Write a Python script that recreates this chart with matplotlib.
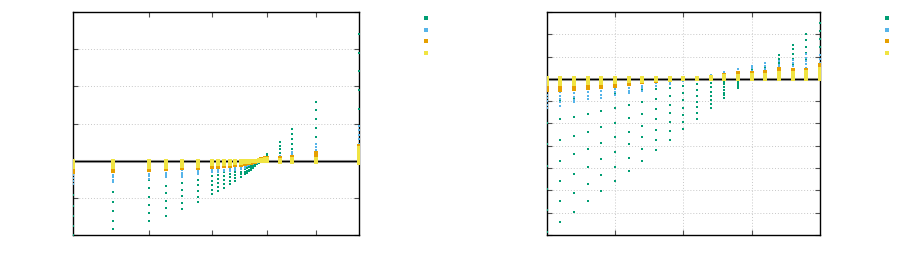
import matplotlib
matplotlib.use('Agg')
import matplotlib.pyplot as plt
from matplotlib.lines import Line2D

# colours (gnuplot default set)
c_green = '#009e73'
c_blue = '#56b4e9'
c_orange = '#e69f00'
c_yellow = '#f0e442'

# ---------------- left panel data ----------------
left_x = [0, 14.0, 26.6, 32.5, 38.1, 43.7, 48.6, 50.7, 52.8, 54.9, 56.6, 58.7,
          60.1, 60.8, 61.5, 62.2, 62.9, 63.6, 64.3, 65.0, 65.7, 66.4, 67.1, 67.8,
          72.4, 76.6, 85.0, 100]
left_green = [
    [-0.92, -1.21, -1.49, -1.76, -2.0],
    [-0.58, -0.85, -1.10, -1.36, -1.61, -1.85],
    [-0.51, -0.73, -0.97, -1.18, -1.41, -1.62],
    [-0.45, -0.67, -0.88, -1.08, -1.28, -1.48],
    [-0.40, -0.59, -0.78, -0.96, -1.13, -1.31],
    [-0.36, -0.51, -0.66, -0.81, -0.97, -1.12],
    [-0.29, -0.41, -0.54, -0.65, -0.78, -0.91],
    [-0.38, -0.48, -0.60, -0.71, -0.81],
    [-0.31, -0.42, -0.53, -0.63, -0.73],
    [-0.27, -0.36, -0.45, -0.55, -0.64],
    [-0.22, -0.31, -0.38, -0.46, -0.54],
    [-0.13, -0.22, -0.30, -0.37, -0.44],
    [-0.08, -0.16, -0.23, -0.30, -0.36],
    [-0.07, -0.14, -0.20, -0.27, -0.33],
    [-0.06, -0.12, -0.18, -0.24, -0.29],
    [-0.05, -0.10, -0.15, -0.20, -0.25],
    [-0.04, -0.08, -0.12, -0.16, -0.20],
    [-0.03, -0.06, -0.09, -0.12, -0.15],
    [-0.02, -0.04, -0.06, -0.08, -0.10],
    [-0.01, -0.02, -0.03, -0.04, -0.05],
    [0.0, 0.01, 0.02, 0.03, 0.04],
    [0.01, 0.02, 0.04, 0.05, 0.07],
    [0.02, 0.04, 0.06, 0.08, 0.10],
    [0.03, 0.06, 0.10, 0.14, 0.18],
    [0.09, 0.20, 0.31, 0.40, 0.49],
    [0.32, 0.45, 0.57, 0.72, 0.84],
    [0.65, 0.89, 1.12, 1.35, 1.59],
    [1.40, 1.89, 2.40, 2.91, 3.42],
]
left_blue = [
    [-0.30, -0.38, -0.46, -0.54, -0.62],
    [-0.30, -0.38, -0.45, -0.52, -0.58],
    [-0.28, -0.35, -0.42, -0.50],
    [-0.26, -0.33, -0.39, -0.45],
    [-0.25, -0.32, -0.38, -0.44],
    [-0.24, -0.30, -0.35],
    [-0.20, -0.26, -0.31],
    [-0.19, -0.25, -0.30],
    [-0.18, -0.24, -0.29],
    [-0.17, -0.22, -0.27],
    [-0.16, -0.21, -0.25],
    [-0.14, -0.19, -0.23],
    [-0.11, -0.15, -0.19],
    [-0.10, -0.14],
    [-0.09, -0.12],
    [-0.07, -0.10],
    [-0.05, -0.08],
    [-0.04, -0.06],
    [-0.03, -0.05],
    [-0.02],
    [0.01],
    [0.02, 0.04],
    [0.03, 0.05],
    [0.04, 0.07],
    [0.08, 0.13],
    [0.12, 0.17, 0.22],
    [0.22, 0.30, 0.38, 0.45],
    [0.45, 0.57, 0.70, 0.82, 0.94],
]
left_orange = [
    [-0.20, -0.25, -0.30],
    [-0.20, -0.25, -0.29],
    [-0.19, -0.24],
    [-0.18, -0.23],
    [-0.16, -0.21],
    [-0.15, -0.20],
    [-0.12, -0.16],
    [-0.12, -0.16],
    [-0.11, -0.15],
    [-0.11, -0.14],
    [-0.10, -0.13],
    [-0.09, -0.12],
    [-0.06, -0.08], [-0.05, -0.07], [-0.05, -0.06], [-0.04, -0.05], [-0.03], [-0.03],
    [-0.02], [0.03], [0.04], [0.05], [0.06], [0.07],
    [0.05, 0.08],
    [0.06, 0.10],
    [0.10, 0.15, 0.21],
    [0.13, 0.22, 0.31, 0.40],
]
left_yellow = [
    [0.0, -0.06, -0.12, -0.18],
    [0.0, -0.06, -0.12, -0.18],
    [0.0, -0.06, -0.12, -0.17],
    [0.0, -0.06, -0.11, -0.16],
    [0.0, -0.05, -0.10, -0.14],
    [0.0, -0.05, -0.10, -0.14],
    [0.0, -0.04, -0.09],
    [0.0, -0.04, -0.09],
    [0.0, -0.04, -0.08],
    [0.0, -0.04, -0.08],
    [0.0, -0.04, -0.07],
    [0.0, -0.03, -0.06],
    [0.0, -0.03], [0.0, -0.03], [0.0, -0.03], [0.0, -0.02], [0.0, -0.02], [0.0, -0.02],
    [0.0, -0.01], [0.0, 0.02], [0.0, 0.03], [0.0, 0.03], [0.0, 0.04],
    [0.0, 0.04],
    [-0.03, 0.0, 0.03],
    [-0.03, 0.0, 0.04],
    [-0.03, 0.0, 0.05],
    [-0.05, 0.05, 0.15, 0.25, 0.35],
]
left_xticks = [26.6, 48.6, 67.8, 85.0]
left_yticks = [-2, -1, 0, 1, 2, 3, 4]

# ---------------- right panel data ----------------
right_x = [0.0, 0.2, 0.4, 0.6, 0.8, 1.0, 1.2, 1.4, 1.6, 1.8, 2.0,
           2.2, 2.4, 2.6, 2.8, 3.0, 3.2, 3.4, 3.6, 3.8, 4.0]
right_green = [
    [-1.97, -2.94, -3.92, -4.92, -5.89, -6.86],
    [-0.93, -1.82, -2.75, -3.66, -4.59, -5.49, -6.40],
    [-0.85, -1.70, -2.56, -3.39, -4.25, -5.10, -5.95],
    [-0.78, -1.57, -2.36, -3.15, -3.93, -4.71, -5.49],
    [-0.72, -1.45, -2.17, -2.88, -3.60, -4.32, -5.04],
    [-0.65, -1.30, -1.96, -2.62, -3.27, -3.93, -4.59],
    [-0.59, -1.18, -1.76, -2.36, -2.94, -3.53, -4.11],
    [-0.52, -1.05, -1.57, -2.09, -2.62, -3.14, -3.66],
    [-0.46, -0.91, -1.36, -1.82, -2.27, -2.74, -3.20],
    [-0.39, -0.78, -1.17, -1.55, -1.94, -2.33, -2.72],
    [-0.33, -0.64, -0.96, -1.29, -1.61, -1.93, -2.26],
    [-0.25, -0.51, -0.76, -1.02, -1.27, -1.52, -1.78],
    [-0.19, -0.37, -0.57, -0.75, -0.94, -1.14, -1.32],
    [-0.12, -0.25, -0.37, -0.48, -0.61, -0.73, -0.85],
    [-0.06, -0.13, -0.19, -0.26, -0.33, -0.39],
    [0.10, 0.20, 0.30, 0.40, 0.50],
    [0.20, 0.34, 0.48, 0.60, 0.72],
    [0.54, 0.72, 0.90, 1.06],
    [0.64, 0.88, 1.10, 1.33, 1.54],
    [0.87, 1.15, 1.45, 1.73, 2.02],
    [1.09, 1.43, 1.79, 2.15, 2.49],
]
right_blue = [
    [-0.55, -0.70, -0.85, -1.00, -1.15, -1.30],
    [-0.60, -0.75, -0.90, -1.05, -1.20],
    [-0.50, -0.65, -0.80, -0.95, -1.05],
    [-0.45, -0.60, -0.75, -0.90],
    [-0.40, -0.55, -0.70, -0.85],
    [-0.30, -0.45, -0.60, -0.72],
    [-0.25, -0.40, -0.55, -0.65],
    [-0.18, -0.30, -0.42, -0.55],
    [-0.12, -0.20, -0.30],
    [-0.08, -0.15, -0.25],
    [-0.03, -0.08],
    [0.02],
    [0.08, 0.18],
    [0.10, 0.20, 0.31],
    [0.15, 0.30, 0.45],
    [0.27, 0.37, 0.47, 0.57],
    [0.34, 0.46, 0.58, 0.72],
    [0.40, 0.52, 0.64, 0.80],
    [0.45, 0.58, 0.72, 0.85],
    [0.50, 0.65, 0.80, 0.95, 1.10],
    [0.55, 0.72, 0.90, 1.05],
]
right_orange = [
    [-0.30, -0.40, -0.50],
    [-0.28, -0.38, -0.50],
    [-0.25, -0.35, -0.45],
    [-0.22, -0.32, -0.42],
    [-0.20, -0.28, -0.36],
    [-0.15, -0.22, -0.30],
    [-0.12, -0.18, -0.25],
    [-0.10, -0.15],
    [-0.06, -0.10],
    [-0.04, -0.06],
    [-0.02],
    [0.02],
    [0.06, 0.10],
    [0.10, 0.18],
    [0.15, 0.25],
    [0.20, 0.28],
    [0.22, 0.32],
    [0.27, 0.37, 0.45],
    [0.30, 0.40],
    [0.30, 0.42],
    [0.35, 0.50, 0.62],
]
right_yellow = [
    [0.03, -0.06, -0.15, -0.24],
    [0.03, -0.06, -0.15, -0.24],
    [0.03, -0.05, -0.13, -0.21],
    [0.03, -0.05, -0.12, -0.19],
    [0.03, -0.05, -0.11, -0.17],
    [0.03, -0.04, -0.10, -0.14],
    [0.03, -0.04, -0.09],
    [0.03, -0.03, -0.08],
    [0.03, -0.02, -0.06],
    [0.03, -0.03],
    [0.02, -0.02],
    [-0.02, 0.03],
    [-0.02, 0.04, 0.08],
    [-0.02, 0.05, 0.12],
    [-0.02, 0.06, 0.14],
    [-0.02, 0.07, 0.16],
    [-0.02, 0.08, 0.18],
    [-0.02, 0.08, 0.18, 0.26],
    [-0.02, 0.08, 0.18, 0.27],
    [-0.02, 0.09, 0.20, 0.30],
    [-0.02, 0.10, 0.22, 0.35, 0.45],
]
right_xticks = [1, 2, 3]
right_yticks = [-7, -6, -5, -4, -3, -2, -1, 0, 1, 2, 3]


def flat(xs, cols):
    px, py = [], []
    for x, ys in zip(xs, cols):
        for y in ys:
            px.append(x)
            py.append(y)
    return px, py


def draw(ax, xs, green, blue, orange, yellow):
    ax.axhline(0, color='#b0b0b0', lw=2.2, zorder=1)
    ax.axhline(0, color='black', lw=1.0, zorder=2)
    for cols, col, ms in [(green, c_green, 1.6), (blue, c_blue, 1.9),
                          (orange, c_orange, 2.2), (yellow, c_yellow, 2.6)]:
        px, py = flat(xs, cols)
        ax.plot(px, py, 's', color=col, ms=ms, mew=0, zorder=3)
    ax.tick_params(direction='in', top=True, right=True, length=3.5,
                   width=0.8, color='#505050', labelbottom=False, labelleft=False)
    for s in ax.spines.values():
        s.set_linewidth(1.0)
        s.set_color('black')
    handles = [Line2D([], [], ls='none', marker='s', color=c, mew=0, ms=2.2)
               for c in (c_green, c_blue, c_orange, c_yellow)]
    return handles


fig = plt.figure(figsize=(9.16, 2.74), dpi=100)
ax1 = fig.add_axes([73 / 916, 1 - 235 / 274, 286 / 916, 223 / 274])
ax2 = fig.add_axes([546.5 / 916, 1 - 235 / 274, 273.5 / 916, 223 / 274])

h1 = draw(ax1, left_x, left_green, left_blue, left_orange, left_yellow)
ax1.set_xlim(0, 100)
ax1.set_ylim(-2, 4)
ax1.set_xticks(left_xticks)
ax1.set_yticks(left_yticks)
ax1.grid(axis='y', color='#c8c8c8', ls=(0, (1, 2)), lw=0.7)
ax1.set_axisbelow(True)

h2 = draw(ax2, right_x, right_green, right_blue, right_orange, right_yellow)
ax2.set_xlim(0, 4)
ax2.set_ylim(-7, 3)
ax2.set_xticks(right_xticks)
ax2.set_yticks(right_yticks)
ax2.grid(color='#c8c8c8', ls=(0, (1, 2)), lw=0.7)
ax2.set_axisbelow(True)

for h, xpos in [(h1, 426 / 916), (h2, 887 / 916)]:
    fig.legend(h, [''] * 4, loc='upper center', bbox_to_anchor=(xpos, 1 - 14 / 274),
               frameon=False, handlelength=0.6, handletextpad=0, borderpad=0,
               borderaxespad=0, labelspacing=0.3, prop={'size': 6.5})

fig.savefig('out.png', dpi=100)
